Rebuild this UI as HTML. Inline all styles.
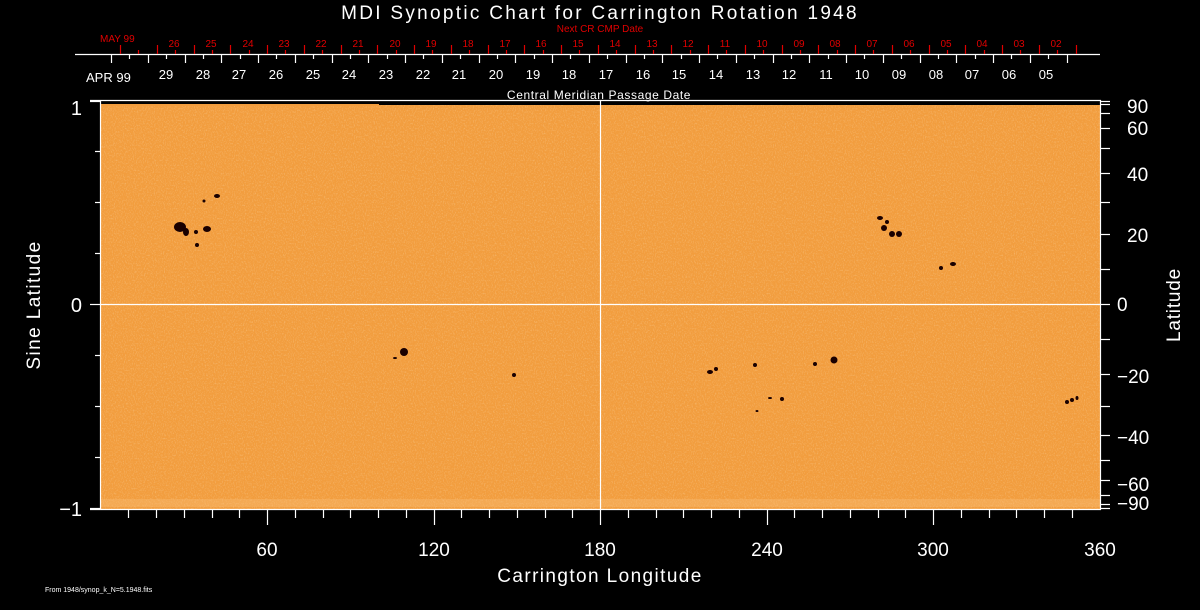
<!DOCTYPE html>
<html><head><meta charset="utf-8"><style>
html,body{margin:0;padding:0;background:#000;}
svg{display:block;font-family:"Liberation Sans",sans-serif;}
</style></head><body>
<svg id="s" width="1200" height="610" viewBox="0 0 1200 610" xmlns="http://www.w3.org/2000/svg">
<defs>
<filter id="n" x="0" y="0" width="100%" height="100%">
<feTurbulence type="fractalNoise" baseFrequency="0.9 0.6" numOctaves="2" seed="3" result="t"/>
<feColorMatrix type="matrix" values="0 0 0 0 1  0 0 0 0 0.85  0 0 0 0 0.6  0 0 0 1.6 -0.75" in="t" result="c"/>
<feComposite in="c" in2="SourceGraphic" operator="in"/>
</filter>
</defs>
<rect x="0" y="0" width="1200" height="610" fill="#000"/>
<rect x="101" y="103" width="999" height="406" fill="#f29d3e"/>
<rect x="101" y="103" width="999" height="406" fill="#fff" filter="url(#n)" opacity="0.45"/>
<rect x="101" y="100" width="999" height="5" fill="#000"/>
<rect x="101" y="104" width="278" height="2" fill="#f29d3e"/>
<rect x="101" y="499" width="999" height="8" fill="#f8c07a" opacity="0.35"/>
<g fill="#1a0000">
<ellipse cx="180" cy="227" rx="6" ry="5"/><ellipse cx="186" cy="232" rx="3" ry="4"/>
<ellipse cx="207" cy="229" rx="4" ry="3"/><ellipse cx="196" cy="232" rx="2" ry="2"/>
<ellipse cx="197" cy="245" rx="2" ry="2"/><ellipse cx="217" cy="196" rx="3" ry="2"/>
<ellipse cx="204" cy="201" rx="1.5" ry="1.5"/>
<ellipse cx="404" cy="352" rx="4" ry="4"/><ellipse cx="395" cy="358" rx="2" ry="1"/>
<ellipse cx="514" cy="375" rx="2" ry="2"/>
<ellipse cx="884" cy="228" rx="3" ry="3"/><ellipse cx="892" cy="234" rx="3" ry="3"/>
<ellipse cx="899" cy="234" rx="3" ry="3"/><ellipse cx="880" cy="218" rx="3" ry="2"/>
<ellipse cx="887" cy="222" rx="2" ry="2"/>
<ellipse cx="941" cy="268" rx="2" ry="2"/><ellipse cx="953" cy="264" rx="3" ry="2"/>
<ellipse cx="710" cy="372" rx="3" ry="2"/><ellipse cx="716" cy="369" rx="2" ry="2"/>
<ellipse cx="755" cy="365" rx="2" ry="2"/><ellipse cx="815" cy="364" rx="2" ry="2"/>
<ellipse cx="834" cy="360" rx="3.5" ry="3.5"/><ellipse cx="782" cy="399" rx="2" ry="2"/>
<ellipse cx="770" cy="398" rx="2" ry="1"/><ellipse cx="757" cy="411" rx="1.5" ry="1"/>
<ellipse cx="1072" cy="400" rx="2" ry="2"/><ellipse cx="1067" cy="402" rx="2" ry="2"/>
<ellipse cx="1077" cy="398" rx="1.5" ry="2"/>
</g>
<g stroke="#fff" stroke-width="1.2" fill="none">
<line x1="600.5" y1="100" x2="600.5" y2="509"/>
<line x1="101" y1="304.5" x2="1100" y2="304.5"/>
<line x1="100.5" y1="100" x2="100.5" y2="510"/>
<line x1="1100.5" y1="100" x2="1100.5" y2="510"/>
<line x1="90" y1="100.5" x2="1101" y2="100.5"/>
<line x1="90" y1="509.5" x2="1101" y2="509.5"/>
<line x1="75" y1="54.5" x2="1100" y2="54.5"/>
</g>
<g id="ticks" stroke-width="1.2"></g>
<g fill="#fff" font-size="20">
<text x="600" y="19" text-anchor="middle" font-size="19" letter-spacing="2.3">MDI Synoptic Chart for Carrington Rotation 1948</text>
<text x="599" y="99" text-anchor="middle" font-size="12" letter-spacing="0.6">Central Meridian Passage Date</text>
<text x="86" y="82" font-size="13">APR 99</text>
<text x="82" y="312" text-anchor="end">0</text>
<text x="82" y="115" text-anchor="end">1</text>
<text x="82" y="516" text-anchor="end">−1</text>
<text x="40" y="305" text-anchor="middle" transform="rotate(-90 40 305)" font-size="19" letter-spacing="1.4">Sine Latitude</text>
<text x="1180" y="305" text-anchor="middle" transform="rotate(-90 1180 305)" font-size="19" letter-spacing="0.8">Latitude</text>
<text x="600" y="582" text-anchor="middle" font-size="19" letter-spacing="1.4">Carrington Longitude</text>
<g text-anchor="middle" font-size="19">
<text x="267" y="556">60</text><text x="434" y="556">120</text><text x="600" y="556">180</text>
<text x="767" y="556">240</text><text x="933" y="556">300</text><text x="1100" y="556">360</text>
</g>
<g font-size="19">
<text x="1127" y="113">90</text><text x="1127" y="135">60</text><text x="1127" y="181">40</text>
<text x="1127" y="242">20</text><text x="1117" y="311">0</text><text x="1117" y="383">−20</text>
<text x="1117" y="444">−40</text><text x="1117" y="491">−60</text><text x="1117" y="510">−90</text>
</g>
<text x="45" y="592" font-size="7">From 1948/synop_k_N=5.1948.fits</text>
<g text-anchor="middle" font-size="13">
<text x="166" y="79">29</text><text x="203" y="79">28</text><text x="239" y="79">27</text><text x="276" y="79">26</text><text x="313" y="79">25</text><text x="349" y="79">24</text><text x="386" y="79">23</text><text x="423" y="79">22</text><text x="459" y="79">21</text><text x="496" y="79">20</text><text x="533" y="79">19</text><text x="569" y="79">18</text><text x="606" y="79">17</text><text x="643" y="79">16</text><text x="679" y="79">15</text><text x="716" y="79">14</text><text x="753" y="79">13</text><text x="789" y="79">12</text><text x="826" y="79">11</text><text x="862" y="79">10</text><text x="899" y="79">09</text><text x="936" y="79">08</text><text x="972" y="79">07</text><text x="1009" y="79">06</text><text x="1046" y="79">05</text>
</g>
</g>
<g fill="#e00000" font-size="10">
<text x="100" y="42">MAY 99</text>
<text x="600" y="32" text-anchor="middle">Next CR CMP Date</text>
<g text-anchor="middle">
<text x="174" y="47">26</text><text x="211" y="47">25</text><text x="248" y="47">24</text><text x="284" y="47">23</text><text x="321" y="47">22</text><text x="358" y="47">21</text><text x="395" y="47">20</text><text x="431" y="47">19</text><text x="468" y="47">18</text><text x="505" y="47">17</text><text x="541" y="47">16</text><text x="578" y="47">15</text><text x="615" y="47">14</text><text x="652" y="47">13</text><text x="688" y="47">12</text><text x="725" y="47">11</text><text x="762" y="47">10</text><text x="799" y="47">09</text><text x="835" y="47">08</text><text x="872" y="47">07</text><text x="909" y="47">06</text><text x="946" y="47">05</text><text x="982" y="47">04</text><text x="1019" y="47">03</text><text x="1056" y="47">02</text>
</g>
</g>
</svg>
<script>
(function(){
var g=document.getElementById('ticks'),ns='http://www.w3.org/2000/svg';
function L(x1,y1,x2,y2,c){var l=document.createElementNS(ns,'line');l.setAttribute('x1',x1);l.setAttribute('y1',y1);l.setAttribute('x2',x2);l.setAttribute('y2',y2);l.setAttribute('stroke',c);g.appendChild(l);}
var d=36.75,k;
for(k=0;k<=26;k++){var x=Math.round(111+d*k)+.5;L(x,54,x,63,'#fff');}
for(k=0;k<=25;k++){var x=Math.round(129.4+d*k)+.5;L(x,54,x,59,'#fff');}
for(k=0;k<=26;k++){var x=Math.round(120+d*k)+.5;L(x,54,x,45,'#e00000');}
for(k=0;k<=25;k++){var x=Math.round(138.4+d*k)+.5;L(x,54,x,50,'#e00000');}
for(k=1;k<36;k++){var x=Math.round(100.5+k*999/36)+.5;var maj=(k%6==0);if(k==18)continue;L(x,509,x,maj?525:518,'#fff');}
L(600.5,509,600.5,525,'#fff');
for(k=-4;k<=4;k++){var y=Math.round(304-203.5*k/4)+.5;L(k%4==0?90:95,y,100,y,'#fff');}
for(k=-9;k<=9;k++){var y=Math.round(304-203.5*Math.sin(k*10*Math.PI/180))+.5;L(1100,y,1110,y,'#fff');}
})();
</script>
</body></html>
